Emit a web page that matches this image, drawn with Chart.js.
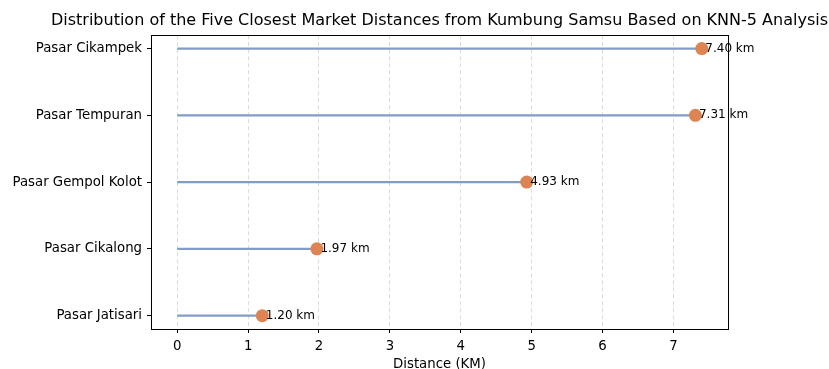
<!DOCTYPE html>
<html>
<head>
<meta charset="utf-8">
<script src="https://cdn.jsdelivr.net/npm/chart.js@4.4.1/dist/chart.umd.min.js"></script>
<style>
  html, body { margin: 0; padding: 0; background: #fff; }
  canvas { display: block; }
</style>
</head>
<body>
<canvas id="lollipop_chart" width="829" height="369"></canvas>
<script>
// market names, bottom to top
const markets = ["Pasar Jatisari", "Pasar Cikalong", "Pasar Gempol Kolot", "Pasar Tempuran", "Pasar Cikampek"]
// distance in km for each market
const distances = [1.20, 1.97, 4.93, 7.31, 7.40]
// x axis tick values
const xTicks = [0, 1, 2, 3, 4, 5, 6, 7]

const stemColor = "rgb(130,156,200)"
const dotColor = "#dd8452"
const fontFamily = "'DejaVu Sans', sans-serif"

// stems: one line from 0 to the value per market, broken with null points
let stemPoints = []
for (let i = 0; i < markets.length; i++) {
  stemPoints.push({ x: 0, y: i })
  stemPoints.push({ x: distances[i], y: i })
  stemPoints.push({ x: distances[i], y: null })
}

let dotPoints = distances.map((d, i) => ({ x: d, y: i }))

// draws the "x.xx km" text next to each dot and the box around the plot
const labelPlugin = {
  id: "labels",
  afterDatasetsDraw(chart) {
    const ctx = chart.ctx
    const xScale = chart.scales.x
    const yScale = chart.scales.y
    ctx.save()
    ctx.font = "12px " + fontFamily
    ctx.fillStyle = "#000"
    ctx.textAlign = "left"
    ctx.textBaseline = "middle"
    for (let i = 0; i < distances.length; i++) {
      let px = xScale.getPixelForValue(distances[i] + 0.05)
      let py = yScale.getPixelForValue(i)
      ctx.fillText(distances[i].toFixed(2) + " km", px, py)
    }
    ctx.restore()
  },
  afterDraw(chart) {
    const a = chart.chartArea
    const ctx = chart.ctx
    ctx.save()
    ctx.strokeStyle = "#000"
    ctx.lineWidth = 1
    ctx.strokeRect(Math.round(a.left) + 0.5, Math.round(a.top) + 0.5,
      Math.round(a.right - a.left), Math.round(a.bottom - a.top))
    ctx.restore()
  }
}

new Chart("lollipop_chart", {
  type: "scatter",
  data: {
    datasets: [{
      type: "scatter",
      label: "dots",
      data: dotPoints,
      backgroundColor: dotColor,
      borderWidth: 0,
      pointRadius: 6.5,
      order: 0
    }, {
      type: "line",
      label: "stems",
      data: stemPoints,
      borderColor: stemColor,
      borderWidth: 2.2,
      pointRadius: 0,
      spanGaps: false,
      fill: false,
      order: 1
    }]
  },
  plugins: [labelPlugin],
  options: {
    responsive: false,
    animation: false,
    layout: { padding: { left: 0, right: 1, top: 0, bottom: 0 } },
    plugins: {
      legend: { display: false },
      tooltip: { enabled: false },
      title: {
        display: true,
        align: "end",
        text: "Distribution of the Five Closest Market Distances from Kumbung Samsu Based on KNN-5 Analysis",
        color: "#000",
        font: { family: fontFamily, size: 16, weight: "normal", lineHeight: 1.2 },
        padding: { top: 11, bottom: 5 }
      }
    },
    scales: {
      x: {
        type: "linear",
        min: -0.37,
        max: 7.77,
        afterBuildTicks: (scale) => { scale.ticks = xTicks.map(v => ({ value: v })) },
        afterFit: (scale) => { scale.height = 40 },
        ticks: {
          color: "#000",
          font: { family: fontFamily, size: 13.3 },
          padding: 6,
          maxRotation: 0,
          callback: (v) => String(v)
        },
        grid: {
          color: "rgba(190,190,190,0.7)",
          lineWidth: 0.8,
          drawTicks: true,
          tickLength: 4,
          tickColor: "#000",
          tickWidth: 1,
          tickBorderDash: []
        },
        border: { display: false, dash: [4, 3] },
        title: {
          display: true,
          text: "Distance (KM)",
          color: "#000",
          font: { family: fontFamily, size: 13.3 },
          padding: { top: 0, bottom: -4 }
        }
      },
      y: {
        type: "linear",
        min: -0.2,
        max: 4.2,
        afterBuildTicks: (scale) => { scale.ticks = markets.map((m, i) => ({ value: i })) },
        afterFit: (scale) => { scale.width = 151 },
        ticks: {
          color: "#000",
          font: { family: fontFamily, size: 13.3 },
          padding: 5,
          callback: (v) => markets[v]
        },
        grid: {
          drawOnChartArea: false,
          drawTicks: true,
          tickLength: 4,
          tickColor: "#000",
          tickWidth: 1
        },
        border: { display: false }
      },
      // empty axis that only reserves the space right of the plot
      yRight: {
        type: "linear",
        position: "right",
        min: 0,
        max: 1,
        afterFit: (scale) => { scale.width = 100 },
        ticks: { display: false },
        grid: { display: false },
        border: { display: false }
      }
    }
  }
});
</script>
</body>
</html>
